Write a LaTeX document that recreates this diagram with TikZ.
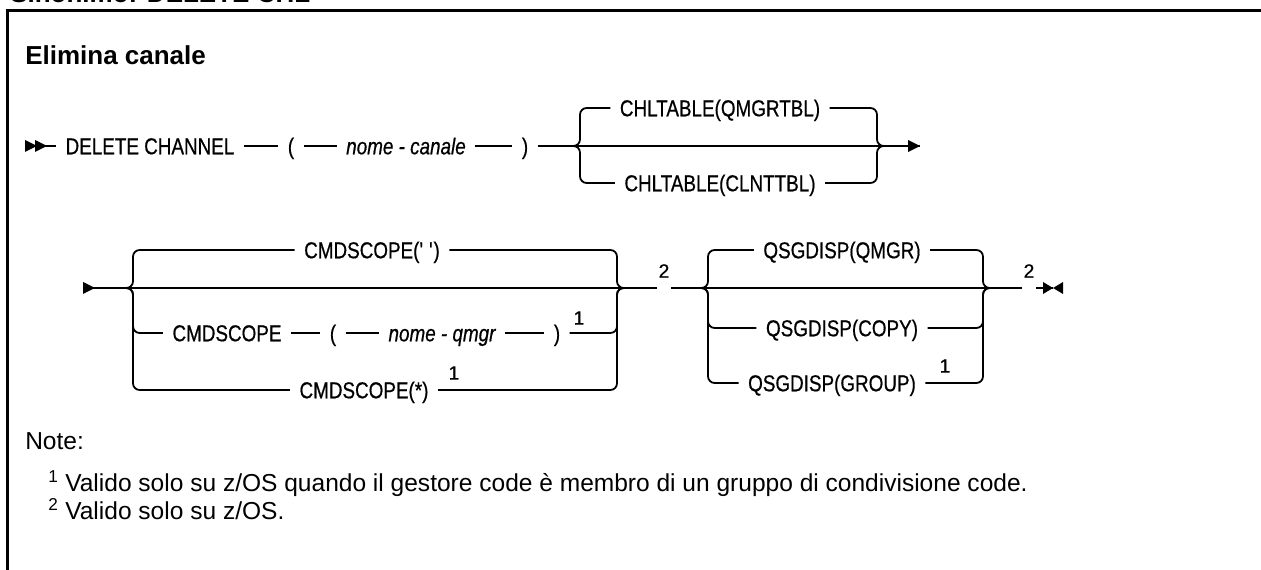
\documentclass[tikz,border=0pt]{standalone}
\usepackage{fontspec}
\setmainfont{Liberation Sans}
\newfontfamily\rrfont[FakeStretch=0.82,FakeBold=0.6]{Liberation Sans}
\newfontfamily\fnfont[FakeBold=0.6]{Liberation Sans}

\begin{document}
\begin{tikzpicture}[
x=0.75pt, y=-0.75pt,
rr/.style={line width=1.35pt},
br/.style={line width=1.35pt, rounded corners=5pt},
kw/.style={
font=\rrfont\fontsize{17.25pt}{20pt}\selectfont,
inner xsep=7pt, inner ysep=0pt,
text height=12.4pt, text depth=0pt
},
var/.style={kw, font=\rrfont\itshape\fontsize{17.25pt}{20pt}\selectfont},
fnote/.style={font=\fnfont\fontsize{14.5pt}{16pt}\selectfont, inner xsep=1pt, inner ysep=0pt},
tri/.style={fill=black},
title/.style={font=\bfseries\fontsize{19.5pt}{22pt}\selectfont, inner sep=0pt, anchor=base west},
notetext/.style={font=\fontsize{18.4pt}{22pt}\selectfont, inner sep=0pt, anchor=base west}
]
\useasboundingbox (0,0) rectangle (1261,570);
\clip (0,0) rectangle (1261,570);

% frame and headings
\draw[line width=2.25pt] (7,600) -- (7,10.5) -- (1300,10.5);
\node[title] (syn) at (10,3) {Sinonimo: DELETE CHL};
\node[title] (ttl) at (25,65) {Elimina canale};

% first row
\coordinate (s1) at (25,146);
\node[kw] (del) at (150,146) {DELETE CHANNEL};
\node[kw] (lp1) at (291,146) {(};
\node[var] (nmc) at (406,146) {nome - canale};
\node[kw] (rp1) at (525,146) {)};
\node[kw] (qtb) at (720,108) {CHLTABLE(QMGRTBL)};
\node[kw] (ctb) at (720,183) {CHLTABLE(CLNTTBL)};
\coordinate (j1l) at (580,146);
\coordinate (j1r) at (877,146);
\coordinate (e1) at (920,146);

\fill[tri] (s1) ++(0,-6) -- ++(12,6) -- ++(-12,6) -- cycle;
\fill[tri] (s1) ++(10,-6) -- ++(12,6) -- ++(-12,6) -- cycle;
\draw[rr] (s1) -- (del.west);
\draw[rr] (del) -- (lp1);
\draw[rr] (lp1) -- (nmc);
\draw[rr] (nmc) -- (rp1);
\draw[rr] (rp1) -- (e1);
\fill[tri] (e1) -- ++(-12,-6) -- ++(0,12) -- cycle;
\draw[br] (j1l) ++(-7,0) -- (j1l) |- (qtb.west);
\draw[br] (qtb.east) -| (j1r) -- ++(7,0);
\draw[br] (j1l) ++(-7,0) -- (j1l) |- (ctb.west);
\draw[br] (ctb.east) -| (j1r) -- ++(7,0);

% second row
\coordinate (s2) at (83,288);
\coordinate (j2l) at (133,288);
\coordinate (j2r) at (617,288);
\node[kw] (cs0) at (372,250) {CMDSCOPE(\textquotesingle\ \textquotesingle)};
\node[kw] (cs1) at (227,333) {CMDSCOPE};
\node[kw] (lp2) at (333,333) {(};
\node[var] (nmq) at (442,333) {nome - qmgr};
\node[kw] (rp2) at (557,333) {)};
\node[fnote] (f1a) at (579,318) {1};
\node[kw] (cs2) at (364,390) {CMDSCOPE(*)};
\node[fnote] (f1b) at (454,373) {1};
\node[fnote] (f2a) at (664,271) {2};
\coordinate (j3l) at (708,288);
\coordinate (j3r) at (983,288);
\node[kw] (qs0) at (842,250) {QSGDISP(QMGR)};
\node[kw] (qs1) at (842,328) {QSGDISP(COPY)};
\node[kw] (qs2) at (832,383) {QSGDISP(GROUP)};
\node[fnote] (f1c) at (945,366) {1};
\node[fnote] (f2b) at (1029,271) {2};
\coordinate (e2) at (1053,288);

\fill[tri] (s2) ++(0,-6) -- ++(12,6) -- ++(-12,6) -- cycle;
\draw[rr] (s2) -- (f2a.west |- s2);
\draw[rr] (f2a.east |- s2) -- (f2b.west |- s2);
\draw[rr] (f2b.east |- s2) -- (e2);
\fill[tri] (e2) -- ++(-10,-6) -- ++(0,12) -- cycle;
\fill[tri] (e2) -- ++(10,-6) -- ++(0,12) -- cycle;

\draw[br] (j2l) ++(-7,0) -- (j2l) |- (cs0.west);
\draw[br] (cs0.east) -| (j2r) -- ++(7,0);
\draw[br] (j2l) ++(-7,0) -- (j2l) |- (cs1.west);
\draw[rr] (cs1) -- (lp2);
\draw[rr] (lp2) -- (nmq);
\draw[rr] (nmq) -- (rp2);
\draw[br] (rp2.east) -| (j2r) -- ++(7,0);
\draw[br] (j2l) ++(-7,0) -- (j2l) |- (cs2.west);
\draw[br] (cs2.east) -| (j2r) -- ++(7,0);

\draw[br] (j3l) ++(-7,0) -- (j3l) |- (qs0.west);
\draw[br] (qs0.east) -| (j3r) -- ++(7,0);
\draw[br] (j3l) ++(-7,0) -- (j3l) |- (qs1.west);
\draw[br] (qs1.east) -| (j3r) -- ++(7,0);
\draw[br] (j3l) ++(-7,0) -- (j3l) |- (qs2.west);
\draw[br] (qs2.east) -| (j3r) -- ++(7,0);

% notes
\node[notetext] (nt) at (25,450) {Note:};
\node[notetext] (n1) at (48,491) {\textsuperscript{1} Valido solo su z/OS quando il gestore code è membro di un gruppo di condivisione code.};
\node[notetext] (n2) at (48,519) {\textsuperscript{2} Valido solo su z/OS.};
\end{tikzpicture}
\end{document}
